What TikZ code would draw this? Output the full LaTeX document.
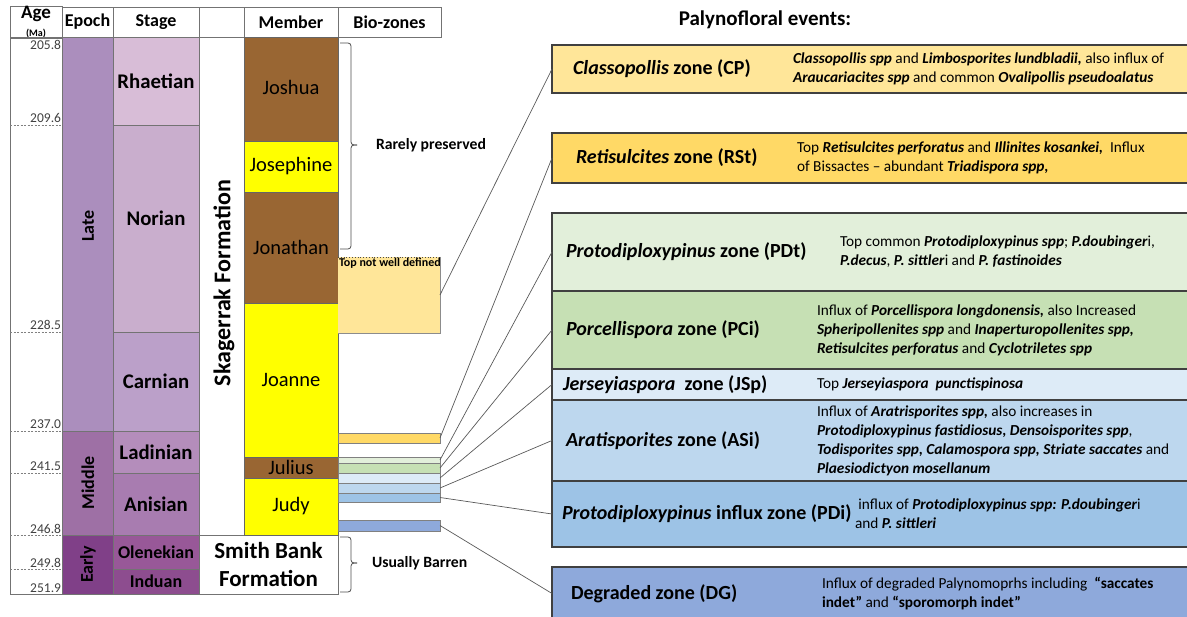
\documentclass[tikz,border=0pt]{standalone}
\usepackage{fontspec}
\setmainfont{Carlito}
\usetikzlibrary{positioning}

\definecolor{lateC}{HTML}{AB8EBD}
\definecolor{middleC}{HTML}{9E70A5}
\definecolor{earlyC}{HTML}{804088}
\definecolor{rhaetC}{HTML}{D8BDD7}
\definecolor{norC}{HTML}{C9AECD}
\definecolor{carnC}{HTML}{BBA0C9}
\definecolor{ladC}{HTML}{B48DBB}
\definecolor{anisC}{HTML}{A87CB0}
\definecolor{olenC}{HTML}{985898}
\definecolor{induC}{HTML}{8D4D8F}
\definecolor{brownC}{HTML}{996633}
\definecolor{yelC}{HTML}{FFFF00}
\definecolor{cpC}{HTML}{FFE699}
\definecolor{rstC}{HTML}{FFD966}
\definecolor{pdtC}{HTML}{E2EFDA}
\definecolor{pciC}{HTML}{C6E0B4}
\definecolor{jspC}{HTML}{DDEBF7}
\definecolor{asiC}{HTML}{BDD7EE}
\definecolor{pdiC}{HTML}{9DC3E6}
\definecolor{dgC}{HTML}{8EA9DB}

\newcommand{\taxon}[1]{\textbf{\textit{#1}}}

\begin{document}
\begin{tikzpicture}[x=1pt, y=-1pt, inner sep=0pt, outer sep=0pt]
\tikzstyle{cell}=[rectangle, draw=black!55, line width=0.7pt]
\tikzstyle{hcell}=[cell, minimum height=30, font=\fontsize{18}{20}\selectfont\bfseries]
\tikzstyle{stage}=[cell, minimum width=86, font=\fontsize{20.8}{22}\selectfont\bfseries]
\tikzstyle{member}=[cell, draw=black!60, minimum width=94, font=\fontsize{20.5}{22}\selectfont]
\tikzstyle{epochlbl}=[rotate=90, font=\fontsize{18}{20}\selectfont\bfseries]
\tikzstyle{agelbl}=[anchor=base east, text=black!75, font=\fontsize{13.5}{15}\selectfont]
\tikzstyle{tick}=[black!50, line width=0.6pt, dash pattern=on 2pt off 1.5pt]
\tikzstyle{bar}=[rectangle, draw=black!50, line width=0.7pt, minimum width=102]
\tikzstyle{zone}=[rectangle, draw=black!75, line width=1.3pt, minimum width=650]
\tikzstyle{ztitle}=[anchor=west, font=\fontsize{20}{24}\selectfont\bfseries]
\tikzstyle{zdesc}=[anchor=west, align=left, font=\fontsize{15.3}{19}\selectfont]
\tikzstyle{note}=[font=\fontsize{15.7}{18}\selectfont\bfseries]
\tikzstyle{brk}=[black!70, line width=0.8pt, rounded corners=3pt]
\tikzstyle{conn}=[black!65, line width=0.7pt]
\useasboundingbox (0,0) rectangle (1187,617);

% header row
\node[hcell, minimum width=52, align=center] (hAge) at (36,22) {{\fontsize{19}{16}\selectfont Age}\\[-2pt]{\fontsize{10}{10}\selectfont (Ma)}};
\node[hcell, minimum width=51] (hEpoch) at (87.5,22) {Epoch};
\node[hcell, minimum width=86] (hStage) at (156,22) {Stage};
\node[hcell, minimum width=45] (hBlank) at (221.5,22) {};
\node[hcell, minimum width=94] (hMember) at (291,22) {Member};
\node[hcell, minimum width=103] (hBio) at (389.5,22) {Bio-zones};

% age scale
\node[cell, minimum width=52, minimum height=557] (ageCol) at (36,315.5) {};
\foreach \y in {125,332,431,473,535,569}
  \draw[tick] (10,\y) -- (62,\y);
\foreach \y/\t [count=\i] in {50/205.8, 123/209.6, 330/228.5, 429/237.0, 471/241.5, 533/246.8, 567/249.8, 592/251.9}
  \node[agelbl] (age\i) at (61,\y) {\t};

% epochs
\node[cell, fill=lateC, minimum width=51, minimum height=394] (late) at (87.5,234) {};
\node[cell, fill=middleC, minimum width=51, minimum height=104] (middle) at (87.5,483) {};
\node[cell, fill=earlyC, minimum width=51, minimum height=59] (early) at (87.5,564.5) {};
\node[epochlbl] (lateLbl) at (88,226) {Late};
\node[epochlbl] (middleLbl) at (88,483) {Middle};
\node[epochlbl] (earlyLbl) at (88,564.5) {Early};

% stages
\node[stage, fill=rhaetC, minimum height=88] (rhaetian) at (156,81) {Rhaetian};
\node[stage, fill=norC, minimum height=207] (norian) at (156,228.5) {\raisebox{20pt}{Norian}};
\node[stage, fill=carnC, minimum height=99] (carnian) at (156,381.5) {Carnian};
\node[stage, fill=ladC, minimum height=42] (ladinian) at (156,452) {Ladinian};
\node[stage, fill=anisC, minimum height=62] (anisian) at (156,504) {Anisian};
\node[stage, fill=olenC, minimum height=34, font=\fontsize{18}{20}\selectfont\bfseries] (olenekian) at (156,552) {Olenekian};
\node[stage, fill=induC, minimum height=25, font=\fontsize{18}{20}\selectfont\bfseries] (induan) at (156,581.5) {Induan};

% formations
\node[cell, minimum width=45, minimum height=498] (skagerrak) at (221.5,286) {};
\node[epochlbl, font=\fontsize{24}{26}\selectfont\bfseries] (skagerrakLbl) at (224,283) {Skagerrak Formation};
\node[cell, minimum width=139, minimum height=59, align=center, font=\fontsize{23}{28}\selectfont\bfseries] (smithBank) at (268.5,564.5) {Smith Bank\\Formation};

% members
\node[member, fill=brownC, minimum height=104] (joshua) at (291,89) {\raisebox{4pt}{Joshua}};
\node[member, fill=yelC, minimum height=51] (josephine) at (291,166.5) {Josephine};
\node[member, fill=brownC, minimum height=111] (jonathan) at (291,247.5) {Jonathan};
\node[member, fill=yelC, minimum height=154] (joanne) at (291,380) {Joanne};
\node[member, fill=brownC, minimum height=21] (julius) at (291,467.5) {Julius};
\node[member, fill=yelC, minimum height=57] (judy) at (291,506.5) {Judy};

% brackets
\draw[brk] (340,43) -- (351,43) -- (351,145) -- (357,145);
\draw[brk] (357,145) -- (351,145) -- (351,249) -- (340,249);
\coordinate (rareTip) at (357,145);
\node[note, right=19pt of rareTip] (rarely) {Rarely preserved};
\draw[brk] (340,537) -- (351,537) -- (351,563) -- (357,563);
\draw[brk] (357,563) -- (351,563) -- (351,592) -- (340,592);
\coordinate (barrenTip) at (357,563);
\node[note, right=15pt of barrenTip] (barren) {Usually Barren};

% bio-zone bars
\node[rectangle, fill=cpC, minimum width=102, minimum height=76] (topNwd) at (389,295) {};
\draw[black!45, line width=0.7pt] (topNwd.north east) -- (topNwd.south east) -- (topNwd.south west);
\draw[black!70, line width=0.8pt, dotted] (topNwd.north west) -- (topNwd.north east);
\node[anchor=north west, inner sep=1pt, font=\fontsize{12}{13}\selectfont\bfseries] (topNwdLbl) at (topNwd.north west) {Top not well defined};
\node[bar, fill=rstC, minimum height=10] (barCP) at (389,438) {};
\node[bar, fill=pdtC, minimum height=6] (barPDt) at (389,460) {};
\node[bar, fill=pciC, minimum height=10] (barPCi) at (389,468) {};
\node[bar, fill=jspC, minimum height=10] (barJSp) at (389,478) {};
\node[bar, fill=asiC, minimum height=10] (barASi) at (389,488) {};
\node[bar, fill=pdiC, minimum height=9] (barPDi) at (389,497.5) {};
\node[bar, fill=dgC, minimum height=11] (barDG) at (389,525.5) {};

% palynofloral events
\node[font=\fontsize{21}{24}\selectfont\bfseries] (events) at (765,20) {Palynofloral events:};

\node[zone, fill=cpC, minimum height=48] (zoneCP) at (877,69) {};
\node[zone, fill=rstC, minimum height=50] (zoneRSt) at (877,158) {};
\node[zone, fill=pdtC, minimum height=78] (zonePDt) at (877,252) {};
\node[zone, fill=pciC, minimum height=78] (zonePCi) at (877,330) {};
\node[zone, fill=jspC, minimum height=31] (zoneJSp) at (877,384.5) {};
\node[zone, fill=asiC, minimum height=81] (zoneASi) at (877,440.5) {};
\node[zone, fill=pdiC, minimum height=66] (zonePDi) at (877,514) {};
\node[zone, fill=dgC, minimum height=53] (zoneDG) at (877,593.5) {};

\node[ztitle, right=21pt of zoneCP.west] (tCP) {\textit{Classopollis} zone (CP)};
\node[ztitle, right=24pt of zoneRSt.west] (tRSt) {\textit{Retisulcites} zone (RSt)};
\node[ztitle, right=14pt of zonePDt.west] (tPDt) {\textit{Protodiploxypinus} zone (PDt)};
\node[ztitle, right=14pt of zonePCi.west] (tPCi) {\textit{Porcellispora} zone (PCi)};
\node[ztitle, right=11pt of zoneJSp.west] (tJSp) {\textit{Jerseyiaspora}\ \ zone (JSp)};
\node[ztitle, right=14pt of zoneASi.west] (tASi) {\textit{Aratisporites} zone (ASi)};
\node[ztitle, right=10pt of zonePDi.west] (tPDi) {\textit{Protodiploxypinus} influx zone (PDi)};
\node[ztitle, right=19pt of zoneDG.west] (tDG) {Degraded zone (DG)};

\node[zdesc, right=241pt of zoneCP.west] (dCP) {\taxon{Classopollis spp} and \taxon{Limbosporites lundbladii,} also influx of\\
  \taxon{Araucariacites spp} and common \taxon{Ovalipollis pseudoalatus}};
\node[zdesc, right=245pt of zoneRSt.west] (dRSt) {Top \taxon{Retisulcites perforatus} and \taxon{Illinites kosankei,}\ \ Influx\\
  of Bissactes -- abundant \taxon{Triadispora spp,}};
\node[zdesc, right=288pt of zonePDt.west] (dPDt) {Top common \taxon{Protodiploxypinus spp}; \taxon{P.doubinger}i,\\
  \taxon{P.decus}, \taxon{P. sittler}i and \taxon{P. fastinoides}};
\node[zdesc, right=265pt of zonePCi.west] (dPCi) {Influx of \taxon{Porcellispora longdonensis,} also Increased\\
  \taxon{Spheripollenites spp} and \taxon{Inaperturopollenites spp,}\\
  \taxon{Retisulcites perforatus} and \taxon{Cyclotriletes spp}};
\node[zdesc, right=265pt of zoneJSp.west] (dJSp) {Top \taxon{Jerseyiaspora\ \ punctispinosa}};
\node[zdesc, right=265pt of zoneASi.west] (dASi) {Influx of \taxon{Aratrisporites spp,} also increases in\\
  \taxon{Protodiploxypinus fastidiosus, Densoisporites spp},\\
  \taxon{Todisporites spp, Calamospora spp, Striate saccates} and\\
  \taxon{Plaesiodictyon mosellanum}};
\node[zdesc, right=303pt of zonePDi.west] (dPDi) {\ influx of \taxon{Protodiploxypinus spp: P.doubinger}i\\
  and \taxon{P. sittleri}};
\node[zdesc, right=270pt of zoneDG.west] (dDG) {Influx of degraded Palynomoprhs including\ \ \textbf{``saccates}\\
  \textbf{indet''} and \textbf{``sporomorph indet''}};

% connectors
\draw[conn] (topNwd.east) -- (zoneCP.west);
\draw[conn] (barCP.east) -- (zoneRSt.west);
\draw[conn] (barPDt.east) -- (zonePDt.west);
\draw[conn] (barPCi.east) -- (zonePCi.west);
\draw[conn] (barJSp.east) -- (zoneJSp.west);
\draw[conn] (barASi.east) -- (zoneASi.west);
\draw[conn] (barPDi.east) -- (zonePDi.west);
\draw[conn] (barDG.east) -- (zoneDG.west);
\end{tikzpicture}
\end{document}
